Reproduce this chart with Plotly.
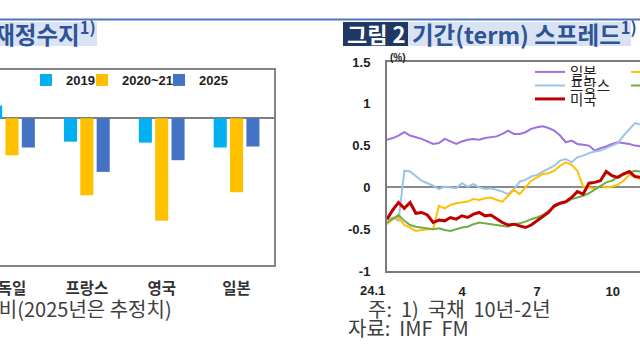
import pandas as pd
import plotly.graph_objects as go

# ---------------- left chart: fiscal balance (% of GDP) ----------------
countries = ['독일', '프랑스', '영국', '일본']
bal_2019 = [1.3, -2.4, -2.5, -3.0]
bal_2020_21 = [-3.8, -7.9, -10.5, -7.6]
bal_2025 = [-3.0, -5.5, -4.3, -2.9]
bar_names = ['2019', '2020~21', '2025']
bar_colors = ['#00B0F0', '#FFC000', '#4472C4']

# ---------------- right chart: term spread (10y-2y, %) ----------------
spread_dates = pd.date_range('2024-01-01', periods=45, freq='7D')
jp = [0.57, 0.59, 0.62, 0.66, 0.62, 0.60, 0.58, 0.55, 0.52, 0.53, 0.58, 0.55, 0.52, 0.55, 0.57,
      0.58, 0.57, 0.59, 0.60, 0.61, 0.64, 0.68, 0.64, 0.64, 0.66, 0.70, 0.72, 0.73, 0.71, 0.68,
      0.62, 0.54, 0.56, 0.52, 0.51, 0.50, 0.44, 0.47, 0.49, 0.52, 0.54, 0.53, 0.52, 0.50, 0.49]
fr = [-0.38, -0.36, -0.40, 0.20, 0.19, 0.14, 0.08, 0.05, 0.02, -0.02, 0.01, 0.00, -0.01, 0.05, 0.01,
      0.04, 0.00, -0.02, -0.01, -0.03, -0.05, -0.08, -0.02, 0.07, 0.09, 0.13, 0.15, 0.19, 0.23, 0.26,
      0.32, 0.34, 0.30, 0.36, 0.38, 0.41, 0.43, 0.44, 0.47, 0.50, 0.53, 0.62, 0.70, 0.77, 0.75]
uk = [-0.44, -0.38, -0.36, -0.45, -0.48, -0.52, -0.51, -0.50, -0.50, -0.22, -0.25, -0.21, -0.19, -0.18, -0.17,
      -0.14, -0.15, -0.13, -0.12, -0.15, -0.17, -0.10, -0.03, -0.08, 0.00, 0.08, 0.12, 0.16, 0.17, 0.20,
      0.26, 0.30, 0.27, 0.20, 0.01, 0.00, -0.02, 0.02, 0.00, 0.01, 0.03, 0.08, 0.15, 0.12, 0.10]
de = [-0.42, -0.38, -0.33, -0.40, -0.45, -0.47, -0.48, -0.49, -0.50, -0.49, -0.51, -0.52, -0.50, -0.48, -0.47,
      -0.44, -0.42, -0.43, -0.44, -0.45, -0.46, -0.47, -0.44, -0.43, -0.41, -0.38, -0.36, -0.33, -0.28, -0.24,
      -0.19, -0.18, -0.14, -0.12, -0.10, -0.07, -0.03, 0.02, 0.06, 0.08, 0.12, 0.17, 0.18, 0.20, 0.19]
us = [-0.38, -0.27, -0.18, -0.25, -0.18, -0.31, -0.30, -0.33, -0.42, -0.39, -0.40, -0.36, -0.38, -0.34, -0.36,
      -0.32, -0.30, -0.34, -0.33, -0.38, -0.42, -0.45, -0.44, -0.46, -0.48, -0.45, -0.40, -0.35, -0.30, -0.22,
      -0.19, -0.17, -0.12, -0.05, -0.08, 0.05, 0.06, 0.08, 0.19, 0.14, 0.12, 0.16, 0.19, 0.13, 0.12]
line_names = ['일본', '프랑스', '영국', '독일', '미국']
line_colors = ['#A070E0', '#9DC3E6', '#FFC000', '#70AD47', '#C00000']
line_widths = [2, 2, 2, 2, 3]

x_tick_vals = ['2024-01-01', '2024-04-01', '2024-07-01', '2024-10-01']
x_tick_text = ['24.1', '4', '7', '10']
y_tick_vals = [-1, -0.5, 0, 0.5, 1, 1.5]
y_tick_text = ['-1', '-0.5', '0', '0.5', '1', '1.5']

W, H = 640, 360
def px(x):
    return x / W
def py(y):
    return 1 - y / H

KR = 'Noto Sans CJK KR'
AR = 'Liberation Sans'

fig = go.Figure()

# bars
bar_series = [bal_2019, bal_2020_21, bal_2025]
bar_legend_x = [26, 82, 159]
for i, (name, vals, col) in enumerate(zip(bar_names, bar_series, bar_colors)):
    lg = 'legend' if i == 0 else f'legend{i+1}'
    fig.add_trace(go.Bar(x=countries, y=vals, name=name, marker_color=col,
                         marker_line_width=0, xaxis='x', yaxis='y', legend=lg))

# lines
series = [jp, fr, uk, de, us]
line_legend_pos = [(530, 72), (530, 85.5), (626, 72), (626, 85.5), (530, 99)]
for i, (name, vals, col, lw) in enumerate(zip(line_names, series, line_colors, line_widths)):
    lg = f'legend{i+4}'
    fig.add_trace(go.Scatter(x=spread_dates, y=vals, name=name, mode='lines',
                             line=dict(color=col, width=lw), xaxis='x2', yaxis='y2', legend=lg))

legends = {}
for i in range(3):
    key = 'legend' if i == 0 else f'legend{i+1}'
    legends[key] = dict(x=px(bar_legend_x[i]), y=py(80), xanchor='left', yanchor='middle',
                        bgcolor='rgba(0,0,0,0)', font=dict(family=AR, size=13, color='#222', weight='bold'))
for i in range(5):
    key = f'legend{i+4}'
    lx, ly = line_legend_pos[i]
    legends[key] = dict(x=px(lx), y=py(ly), xanchor='left', yanchor='middle',
                        bgcolor='rgba(0,0,0,0)', font=dict(family=KR, size=14.5, color='#222'))

frame_col = '#858585'
fig.update_layout(
    width=W, height=H,
    margin=dict(l=0, r=0, t=0, b=0, autoexpand=False),
    paper_bgcolor='white', plot_bgcolor='white',
    barmode='group', bargap=0.345, bargroupgap=0.2,
    showlegend=True,
    xaxis=dict(domain=[0, px(274)], range=[-0.16, 3.5], anchor='y',
               showline=True, mirror=True, linecolor=frame_col, linewidth=1.5,
               ticks='', showgrid=False, zeroline=False, ticklabelstandoff=9,
               tickfont=dict(family=KR, size=15.5, color='#333', weight='bold')),
    yaxis=dict(domain=[py(265), py(70)], range=[-15.05, 4.95], anchor='x', side='right',
               showline=True, linecolor=frame_col, linewidth=1.5, showticklabels=False,
               ticks='', showgrid=False, zeroline=True, zerolinecolor='#7f7f7f', zerolinewidth=1.5),
    xaxis2=dict(domain=[px(387), 1], range=['2024-01-01', '2024-11-03'], anchor='y2', type='date',
                showline=True, mirror=True, linecolor='#7a7a7a', linewidth=2,
                tickvals=x_tick_vals[1:], ticktext=x_tick_text[1:], ticks='', showgrid=False,
                zeroline=False, ticklabelstandoff=7,
                tickfont=dict(family=AR, size=13, color='#222', weight='bold')),
    yaxis2=dict(domain=[py(271), py(62)], range=[-1, 1.5], anchor='x2',
                showline=True, linecolor='#7a7a7a', linewidth=2,
                tickvals=y_tick_vals, ticktext=y_tick_text, ticks='', showgrid=False,
                zeroline=True, zerolinecolor='#8a8a8a', zerolinewidth=1.5, ticklabelstandoff=12,
                tickfont=dict(family=AR, size=13, color='#222', weight='bold')),
    **legends,
)

title_blue = '#2F5496'
title_bg = '#DAE3F3'
navy = '#1F3864'
foot_col = '#404040'

# title highlight boxes and top rule (decoration)
for (x0, x1, col) in [(0, 97, title_bg), (343, 408, navy), (408, 631, title_bg)]:
    fig.add_shape(type='rect', xref='paper', yref='paper', x0=px(x0), x1=px(x1),
                  y0=py(46), y1=py(22), fillcolor=col, line_width=0, layer='below')
fig.add_shape(type='line', xref='paper', yref='paper', x0=0, x1=1, y0=py(19.5), y1=py(19.5),
              line=dict(color='#4F76BE', width=2))

anns = [
    dict(text='주요국 재정수지<sup>1)</sup>', x=px(98), y=py(33), xanchor='right', yanchor='middle',
         font=dict(family=KR, size=23.5, color=title_blue, weight='bold')),
    dict(text='그림 2', x=px(375.5), y=py(33), xanchor='center', yanchor='middle',
         font=dict(family=KR, size=22, color='white', weight='bold')),
    dict(text='기간(term) 스프레드<sup>1)</sup>', x=px(410), y=py(33), xanchor='left', yanchor='middle',
         font=dict(family=KR, size=23.5, color=title_blue, weight='bold')),
    dict(text='(%)', x=px(388), y=py(57), xanchor='left', yanchor='middle',
         font=dict(family=AR, size=10, color='#222', weight='bold')),
    dict(text=x_tick_text[0], x=x_tick_vals[0], xref='x2', y=py(290), xanchor='right', yanchor='middle',
         font=dict(family=AR, size=13, color='#222', weight='bold')),
    dict(text='주: 1) GDP 대비(2025년은 추정치)', x=px(174), y=py(308), xanchor='right', yanchor='middle',
         font=dict(family=KR, size=20, color=foot_col)),
    dict(text='주:  1)  국채  10년-2년', x=px(366), y=py(308), xanchor='left', yanchor='middle',
         font=dict(family=KR, size=20, color=foot_col)),
    dict(text='자료:  IMF  FM', x=px(346), y=py(327), xanchor='left', yanchor='middle',
         font=dict(family=KR, size=20, color=foot_col)),
]
for a in anns:
    a.setdefault('xref', 'paper')
    a['yref'] = 'paper'
    a['showarrow'] = False
fig.update_layout(annotations=anns)

fig.write_html('out.html', config={'displayModeBar': False},
               post_script="document.body.style.margin='0';document.body.style.overflow='hidden';")
